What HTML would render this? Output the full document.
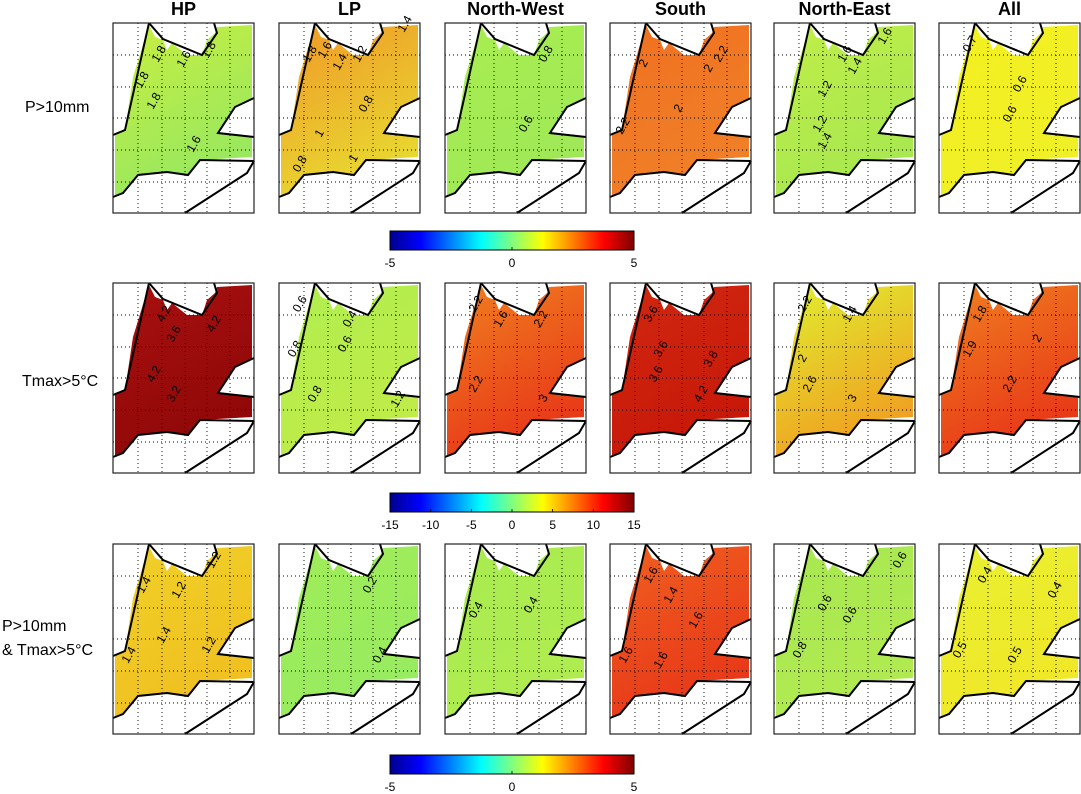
<!DOCTYPE html>
<html><head><meta charset="utf-8"><title>Composite maps</title>
<style>
html,body{margin:0;padding:0;background:#fff;}
svg{display:block;font-family:"Liberation Sans",sans-serif;}
</style></head>
<body>
<svg id="fig" width="1081" height="794" viewBox="0 0 1081 794" xmlns="http://www.w3.org/2000/svg">
<defs id="defs">
<linearGradient id="jet" x1="0" x2="1" y1="0" y2="0">
<stop offset="0" stop-color="#00008f"/><stop offset="0.125" stop-color="#0000ff"/>
<stop offset="0.375" stop-color="#00ffff"/><stop offset="0.5" stop-color="#80ff80"/>
<stop offset="0.625" stop-color="#ffff00"/><stop offset="0.875" stop-color="#ff0000"/>
<stop offset="1" stop-color="#800000"/></linearGradient>
</defs>
</svg>
<script>
const NS="http://www.w3.org/2000/svg";
const svg=document.getElementById('fig');
const defs=document.getElementById('defs');
const colTitles=["HP","LP","North-West","South","North-East","All"];
const rowTops=[23,283,544];
const colLefts=[113,279,445,610,774,939];
const cbTicks1=[-5,0,5];
const cbTicks2=[-15,-10,-5,0,5,10,15];
const cbTicks3=[-5,0,5];
const fills=[
 [["#c8ee40","#98e860"],["#f09828","#e8d830"],["#a8ee50","#a0e858"],["#f07020","#f08028"],["#c0ee48","#a8e850"],["#f4f020","#f0f028"]],
 [["#a81010","#900808"],["#b0ee50","#c0ec48"],["#f08020","#e83818"],["#d02810","#c81808"],["#e0f030","#f0a020"],["#f08020","#e83818"]],
 [["#f0d028","#f0c020"],["#a0ec58","#98ec60"],["#a8ec50","#b0ec50"],["#f06020","#e83818"],["#a8e850","#b0ea50"],["#e8f030","#f0e828"]]
];
const labels=[
 [[["1.8",45,40],["1.8",28,66],["1.8",40,87],["1.6",70,45],["1.8",95,36],["1.6",80,130]],[["1.8",30,40],["1.6",45,36],["1.4",60,48],["1.2",80,40],["1.4",125,10],["0.8",86,90],["1",42,115],["0.8",20,150],["1",76,140]],[["0.8",100,40],["0.6",80,110]],[["2",35,45],["2",100,50],["2.2",110,40],["2",70,90],["2.2",12,112]],[["1.6",70,40],["1.4",80,52],["1.2",50,75],["1.6",110,22],["1.2",45,110],["1.4",50,127]],[["0.7",30,30],["0.6",80,70],["0.6",70,100]]],
 [[["4.2",50,40],["3.6",60,60],["4.2",100,50],["4.2",40,100],["3.2",60,120]],[["0.6",20,30],["0.4",70,45],["0.6",65,70],["0.8",15,75],["0.8",35,120],["1.2",118,125]],[["2.2",30,30],["1.6",55,45],["2.2",95,45],["2.2",30,110],["3",100,120]],[["3.6",40,40],["3.6",50,75],["3.6",45,100],["3.8",100,85],["4.2",90,120]],[["2.2",30,30],["1.4",75,40],["2",30,80],["2.6",35,110],["3",80,120]],[["1.8",40,40],["1.9",30,75],["2",100,60],["2.2",70,110]]],
 [[["1.2",100,25],["1.4",30,50],["1.2",65,55],["1.4",50,100],["1.4",15,120],["1.2",95,110]],[["0.2",90,50],["0.4",100,120]],[["0.4",30,75],["0.4",85,70]],[["1.6",40,40],["1.4",60,60],["1.6",85,85],["1.6",50,125],["1.6",15,120]],[["0.6",50,68],["0.6",75,80],["0.6",125,25],["0.8",25,115]],[["0.4",45,40],["0.4",115,55],["0.5",20,115],["0.5",75,120]]]
];
const W=141,H=190;
const region="2,174 2,110 12,107 20,54 36,2 42,14 50,17 54,27 59,20 74,32 89,32 94,17 102,10 104,4 139,2 139,75 122,84 105,110 139,114 139,134 87,137 75,152 54,149 25,152 10,170";
const coasts=["0,112 12,107 36,0","36,0 50,16 89,32 104,10 101,0","141,75 122,84 105,110 141,114","141,138 87,137 75,152 54,149 25,152 10,170 0,174","72,190 134,150 141,138"];
const gridX=[25,49,72,94,117], gridY=[32,64,95,127,159];
function el(tag,attrs,parent){const e=document.createElementNS(NS,tag);for(const k in attrs)e.setAttribute(k,attrs[k]);(parent||svg).appendChild(e);return e;}
colTitles.forEach((t,i)=>{
 const tx=el('text',{x:colLefts[i]+W/2,y:15,'text-anchor':'middle','font-size':'18','font-weight':'bold'});
 
 
 tx.textContent=t;
});
function rowLabel(t,x,y,name){const e=el('text',{x:x,y:y,'font-size':'16'});e.textContent=t;}
rowLabel("P>10mm",25,112,'row-label-precip');
rowLabel("Tmax>5°C",22,386,'row-label-tmax');
rowLabel("P>10mm",2,631,'row-label-combined');
rowLabel("& Tmax>5°C",2,655,'row-label-combined-2');
rowTops.forEach((y0,r)=>{colLefts.forEach((x0,c)=>{
 const g=el('g',{transform:`translate(${x0},${y0})`});
 
 
 const gid=`g${r}${c}`;
 const lg=el('linearGradient',{id:gid,x1:'0',y1:'0',x2:'0.4',y2:'1'},defs);
 el('stop',{offset:'0','stop-color':fills[r][c][0]},lg);
 el('stop',{offset:'1','stop-color':fills[r][c][1]},lg);
 el('rect',{x:0,y:0,width:W,height:H,fill:'#fff'},g);
 el('polygon',{points:region,fill:`url(#${gid})`},g);
 gridX.forEach(gx=>el('line',{x1:gx,y1:0,x2:gx,y2:H,stroke:'#000','stroke-width':'0.9','stroke-dasharray':'1,3'},g));
 gridY.forEach(gy=>el('line',{x1:0,y1:gy,x2:W,y2:gy,stroke:'#000','stroke-width':'0.9','stroke-dasharray':'1,3'},g));
 coasts.forEach(p=>el('polyline',{points:p,fill:'none',stroke:'#000','stroke-width':'2'},g));
 labels[r][c].forEach(l=>{const t=el('text',{x:l[1],y:l[2],'font-size':'12',transform:`rotate(-60 ${l[1]} ${l[2]})`},g);t.textContent=l[0];});
 el('rect',{x:0,y:0,width:W,height:H,fill:'none',stroke:'#222','stroke-width':'1.2'},g);
});});
function colorbar(y,ticks,name){
 const x0=390,w=244,h=19;
 const g=el('g',{});
 
 
 el('rect',{x:x0,y:y,width:w,height:h,fill:'url(#jet)',stroke:'#000','stroke-width':'1'},g);
 const lo=ticks[0],hi=ticks[ticks.length-1];
 ticks.forEach(v=>{const x=x0+(v-lo)/(hi-lo)*w;
  el('line',{x1:x,y1:y+h,x2:x,y2:y+h-3,stroke:'#000','stroke-width':'0.8'},g);
  const t=el('text',{x:x,y:y+h+17,'text-anchor':'middle','font-size':'12'},g);t.textContent=v;});
}
colorbar(231,cbTicks1,'colorbar-precip');
colorbar(493,cbTicks2,'colorbar-tmax');
colorbar(755,cbTicks3,'colorbar-combined');
</script>
</body></html>
